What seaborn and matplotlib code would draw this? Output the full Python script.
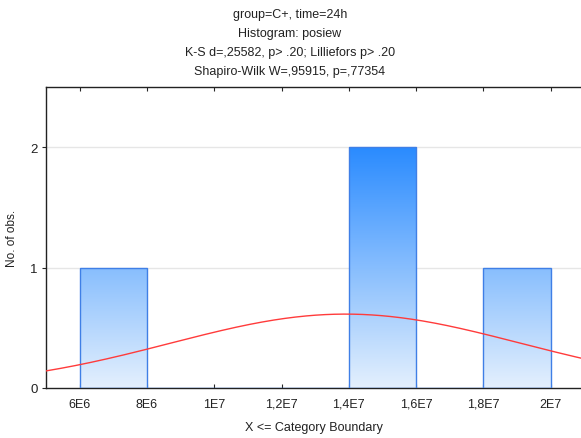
import matplotlib.pyplot as plt
import matplotlib.colors as mcolors
import seaborn as sns
import numpy as np

sns.set_style("white")
plt.rcParams["font.family"] = ["Liberation Sans", "DejaVu Sans"]

# histogram data
bin_edges = [6e6, 8e6, 1e7, 1.2e7, 1.4e7, 1.6e7, 1.8e7, 2e7]
counts = [1, 0, 0, 0, 2, 0, 1]
# fitted normal curve parameters
fit_mean = 1.39e7
fit_sd = 5.2e6
n_obs = 4

x_ticks = [6e6, 8e6, 1e7, 1.2e7, 1.4e7, 1.6e7, 1.8e7, 2e7]
x_tick_labels = ["6E6", "8E6", "1E7", "1,2E7", "1,4E7", "1,6E7", "1,8E7", "2E7"]
y_ticks = [0, 1, 2]

title_lines = [
    "group=C+, time=24h",
    "Histogram: posiew",
    "K-S d=,25582, p> .20; Lilliefors p> .20",
    "Shapiro-Wilk W=,95915, p=,77354",
]

fig = plt.figure(figsize=(5.81, 4.39), dpi=100)
ax = fig.add_axes([46 / 581, 1 - 389 / 439, 1 - 46 / 581, (389 - 88) / 439])

centers = [(a + b) / 2 for a, b in zip(bin_edges[:-1], bin_edges[1:])]
sns.histplot(x=centers, weights=counts, bins=bin_edges, ax=ax,
             facecolor="none", edgecolor="#3f7fe6", linewidth=1.0, zorder=3)

xlim = (5e6, 2.09e7)
ylim = (0, 2.5)

# vertical gradient clipped to each bar
cmap = mcolors.LinearSegmentedColormap.from_list("blu", ["#e4f0fd", "#2a8bff"])
grad = np.linspace(0, 1, 256).reshape(-1, 1)
for p in ax.patches:
    if p.get_height() <= 0:
        continue
    im = ax.imshow(grad, cmap=cmap, origin="lower", aspect="auto",
                   extent=[xlim[0], xlim[1], 0, 2], zorder=2)
    im.set_clip_path(p)

# normal curve
xs = np.linspace(xlim[0], xlim[1], 400)
bw = bin_edges[1] - bin_edges[0]
ys = n_obs * bw / (fit_sd * np.sqrt(2 * np.pi)) * np.exp(-0.5 * ((xs - fit_mean) / fit_sd) ** 2)
sns.lineplot(x=xs, y=ys, ax=ax, color="#ff3b3b", linewidth=1.0, zorder=4)

ax.set_xlim(*xlim)
ax.set_ylim(*ylim)
ax.set_xticks(x_ticks)
ax.set_xticklabels(x_tick_labels, fontsize=9, color="#222222")
ax.set_yticks(y_ticks)
ax.set_yticklabels([str(v) for v in y_ticks], fontsize=9.5, color="#222222")
ax.tick_params(axis="x", direction="in", length=3, top=True, bottom=True, pad=7)
ax.tick_params(axis="y", direction="out", length=3, left=True, pad=3)
for y in [1, 2]:
    ax.axhline(y, color="#e6e6e6", linewidth=1, zorder=1)

for side in ["left", "bottom", "top"]:
    ax.spines[side].set_color("#222222")
    ax.spines[side].set_linewidth(1.0)
ax.spines["right"].set_visible(False)

ax.set_xlabel("X <= Category Boundary", fontsize=9, color="#222222", labelpad=8)
ax.set_ylabel("No. of obs.", fontsize=8.5, color="#222222")
ax.yaxis.set_label_coords((18 - 46) / (581 - 46), 0.5)

for i, line in enumerate(title_lines):
    fig.text(290 / 581, 1 - (15 + i * 19) / 439, line, ha="center", va="center",
             fontsize=9, color="#222222")

fig.savefig("out.png", dpi=100)
